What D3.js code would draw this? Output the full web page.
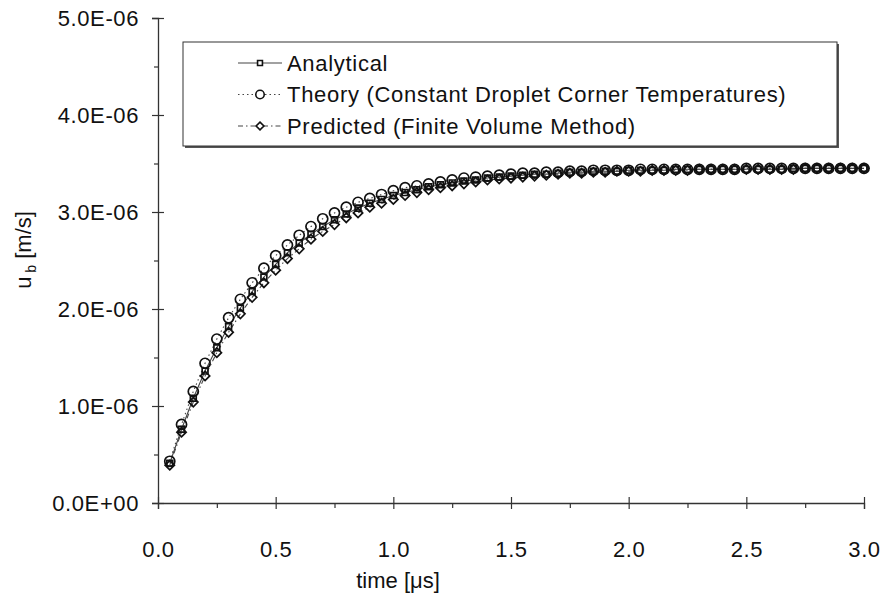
<!DOCTYPE html>
<html><head><meta charset="utf-8">
<script src="https://cdn.jsdelivr.net/npm/d3@7"></script>
<style>body{margin:0;background:#fff}svg{display:block}text{font-family:"Liberation Sans",Arial,sans-serif;fill:#111}</style>
</head><body><svg id="c" width="881" height="596"></svg>
<script>
// time [µs]
const times = d3.range(1, 61).map(k => +(k * 0.05).toFixed(2));
// u_b in units of 1e-6 m/s
const analytical = [0.41,0.76,1.08,1.36,1.60,1.82,2.01,2.18,2.33,2.46,2.58,2.68,2.77,2.85,2.92,2.98,3.04,3.09,3.13,3.17,3.20,3.23,3.26,3.28,3.30,3.32,3.33,3.35,3.36,3.37,3.38,3.39,3.39,3.40,3.41,3.41,3.42,3.42,3.42,3.43,3.43,3.43,3.43,3.44,3.44,3.44,3.44,3.44,3.44,3.44,3.44,3.44,3.44,3.45,3.45,3.45,3.45,3.45,3.45,3.45];
const theory = [0.43,0.81,1.15,1.44,1.69,1.91,2.10,2.27,2.42,2.55,2.66,2.76,2.85,2.93,2.99,3.05,3.10,3.14,3.18,3.22,3.25,3.27,3.29,3.31,3.33,3.35,3.36,3.37,3.38,3.39,3.40,3.40,3.41,3.41,3.42,3.42,3.43,3.43,3.43,3.43,3.44,3.44,3.44,3.44,3.44,3.44,3.44,3.44,3.44,3.45,3.45,3.45,3.45,3.45,3.45,3.45,3.45,3.45,3.45,3.45];
const predicted = [0.39,0.73,1.04,1.31,1.55,1.76,1.95,2.12,2.27,2.40,2.52,2.62,2.72,2.80,2.87,2.94,2.99,3.05,3.09,3.13,3.17,3.20,3.23,3.25,3.27,3.29,3.31,3.33,3.34,3.35,3.36,3.37,3.38,3.39,3.40,3.40,3.41,3.41,3.42,3.42,3.42,3.43,3.43,3.43,3.43,3.44,3.44,3.44,3.44,3.44,3.44,3.44,3.44,3.44,3.45,3.45,3.45,3.45,3.45,3.45];
const seriesNames = ["Analytical", "Theory (Constant Droplet Corner Temperatures)", "Predicted (Finite Volume Method)"];
const xTicks = [0, 0.5, 1.0, 1.5, 2.0, 2.5, 3.0];
const yTicks = [0, 1, 2, 3, 4, 5];
const yTickLabels = ["0.0E+00", "1.0E-06", "2.0E-06", "3.0E-06", "4.0E-06", "5.0E-06"];

const svg = d3.select("#c");
const L = 158, R = 864, T = 18, B = 503;
const FS = "22px";
const x = d3.scaleLinear().domain([0, 3]).range([L, R]);
const y = d3.scaleLinear().domain([0, 5]).range([B, T]);

// axes
const xAxis = svg.append("g").attr("transform", `translate(0,${B})`)
  .call(d3.axisBottom(x).tickValues(xTicks).tickSize(6).tickFormat(d3.format(".1f")));
xAxis.selectAll(".tick line").attr("y1", -6);
xAxis.selectAll("text").attr("dy", 0).attr("y", 54).style("font-size", FS).style("letter-spacing", "0.6px");
const xMinor = svg.append("g").attr("transform", `translate(0,${B})`)
  .call(d3.axisBottom(x).tickValues([0.25,0.75,1.25,1.75,2.25,2.75]).tickSize(5).tickFormat(""));
xMinor.select(".domain").remove();

const yAxis = svg.append("g").attr("transform", `translate(${L},0)`)
  .call(d3.axisLeft(y).tickValues(yTicks).tickSize(6).tickFormat((d, i) => yTickLabels[i]));
yAxis.selectAll(".tick line").attr("x1", 6).attr("x2", -6);
yAxis.selectAll("text").attr("x", -19).attr("dy", "0.36em").style("font-size", FS).style("letter-spacing", "0.6px");
const yMinor = svg.append("g").attr("transform", `translate(${L},0)`)
  .call(d3.axisLeft(y).tickValues([0.5,1.5,2.5,3.5,4.5]).tickSize(4).tickFormat(""));
yMinor.select(".domain").remove();
svg.selectAll(".domain").attr("stroke", "#333").attr("stroke-width", 1.3);
svg.selectAll(".tick line").attr("stroke", "#333").attr("stroke-width", 1.2);

// axis titles
svg.append("text").attr("x", 398).attr("y", 588).attr("text-anchor", "middle").style("font-size", FS).text("time [μs]");
const yl = svg.append("text").attr("transform", "translate(31,250) rotate(-90)").attr("text-anchor", "middle").style("font-size", FS);
yl.append("tspan").text("u");
yl.append("tspan").attr("dy", 5).style("font-size", "14px").text(" b");
yl.append("tspan").attr("dy", -5).text(" [m/s]");

// series
const data = [analytical, theory, predicted];
const dashes = [null, "1.5,3", "5,3,1.5,3"];
const symbols = [d3.symbolSquare, d3.symbolCircle, d3.symbolDiamond2];
const sizes = [34, 80, 55];
const line = d3.line().x((d, i) => x(times[i])).y(d => y(d));
data.forEach((vals, s) => {
  svg.append("path").datum(vals).attr("d", line).attr("fill", "none")
    .attr("stroke", "#444").attr("stroke-width", 1.1).attr("stroke-dasharray", dashes[s]);
});
data.forEach((vals, s) => {
  svg.append("g").selectAll("path").data(vals).join("path")
    .attr("transform", (d, i) => `translate(${x(times[i])},${y(d)})`)
    .attr("d", d3.symbol(symbols[s], sizes[s]))
    .attr("fill", "none").attr("stroke", "#111").attr("stroke-width", 1.7);
});

// legend
const lg = svg.append("g");
lg.append("rect").attr("x", 185).attr("y", 44).attr("width", 654).attr("height", 104).attr("fill", "#555");
lg.append("rect").attr("x", 183).attr("y", 42).attr("width", 654).attr("height", 104).attr("fill", "#fff").attr("stroke", "#333").attr("stroke-width", 1);
seriesNames.forEach((name, s) => {
  const cy = 63 + s * 31.5;
  lg.append("line").attr("x1", 238).attr("x2", 282).attr("y1", cy).attr("y2", cy)
    .attr("stroke", "#444").attr("stroke-width", 1.1).attr("stroke-dasharray", dashes[s]);
  lg.append("path").attr("transform", `translate(260,${cy})`).attr("d", d3.symbol(symbols[s], sizes[s] * 0.7))
    .attr("fill", "#fff").attr("stroke", "#111").attr("stroke-width", 1.6);
  lg.append("text").attr("x", 287).attr("y", cy + 7.5).style("font-size", FS).style("letter-spacing", "0.7px").text(name);
});
</script></body></html>
